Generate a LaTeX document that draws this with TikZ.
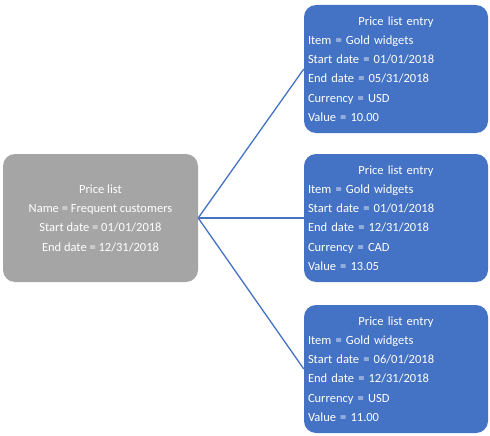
\documentclass[tikz,border=0pt]{standalone}
\usepackage{fontspec}
\setmainfont{Carlito}
\usepackage{tikz}
\definecolor{entryblue}{HTML}{4472C4}
\definecolor{listgray}{HTML}{A5A5A5}
\tikzset{
	listbox/.style={fill=listgray,rounded corners=12pt,minimum width=195pt,minimum height=128pt,inner sep=0pt,
		text=white,align=center,font=\fontsize{12.5}{19.3}\selectfont},
	entrybox/.style={fill=entryblue,rounded corners=12pt,minimum width=184pt,minimum height=128pt,inner sep=0pt,
		text=white,text width=176pt,align=left,font=\fontsize{12.5}{19.3}\selectfont},
	link/.style={draw=entryblue,line width=1.3pt}
}
\newcommand{\entrytitle}{\makebox[176pt]{Price list entry}}
\begin{document}
\begin{tikzpicture}[x=1pt,y=-1pt]
	\useasboundingbox (0,0) rectangle (490,436);
	\node[listbox] (pricelist) at (100.5,218) {Price list\\Name = Frequent customers\\Start date = 01/01/2018\\End date = 12/31/2018};
	\node[entrybox] (entryA) at (396,69) {\entrytitle\\Item = Gold widgets\\Start date = 01/01/2018\\End date = 05/31/2018\\Currency = USD\\Value = 10.00};
	\node[entrybox] (entryB) at (396,218) {\entrytitle\\Item = Gold widgets\\Start date = 01/01/2018\\End date = 12/31/2018\\Currency = CAD\\Value = 13.05};
	\node[entrybox] (entryC) at (396,369) {\entrytitle\\Item = Gold widgets\\Start date = 06/01/2018\\End date = 12/31/2018\\Currency = USD\\Value = 11.00};
	\draw[link] (pricelist.east) -- (entryA.west);
	\draw[link] (pricelist.east) -- (entryB.west);
	\draw[link] (pricelist.east) -- (entryC.west);
\end{tikzpicture}
\end{document}
